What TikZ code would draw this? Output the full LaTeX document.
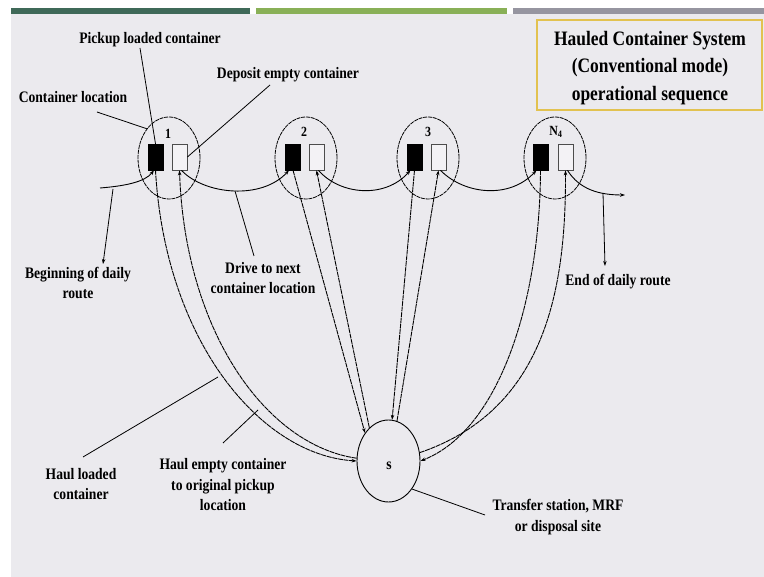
\documentclass[tikz,border=0pt]{standalone}
\usepackage{fontspec}
\setmainfont{Liberation Serif}[FakeStretch=0.85]
\usetikzlibrary{arrows.meta,shapes.geometric,calc}
\definecolor{bg}{RGB}{235,234,238}
\definecolor{barA}{RGB}{63,105,88}
\definecolor{barB}{RGB}{137,176,87}
\definecolor{barC}{RGB}{150,149,160}
\definecolor{gold}{RGB}{226,194,80}
\tikzset{
  lbl/.style={font=\fontsize{16}{20.5}\selectfont\bfseries, align=center, inner sep=0pt, text=black},
  num/.style={font=\fontsize{14}{14}\selectfont\bfseries, inner sep=0pt},
  loc/.style={ellipse, draw, line width=0.8pt, dash pattern=on 4pt off 0.8pt, minimum width=62pt, minimum height=82pt, inner sep=0pt},
  fullbox/.style={rectangle, fill=black, draw=black, minimum width=15pt, minimum height=26pt, inner sep=0pt},
  emptybox/.style={rectangle, draw=black!70, fill=white!40!bg, line width=0.8pt, minimum width=15pt, minimum height=26pt, inner sep=0pt},
  route/.style={line width=0.9pt, -{Stealth[length=5pt,width=3.5pt]}},
  haul/.style={line width=0.9pt, dash pattern=on 5pt off 0.7pt, -{Stealth[length=5pt,width=3.5pt]}},
  pointer/.style={line width=0.8pt},
  pointarrow/.style={line width=0.8pt, -{Stealth[length=5pt,width=3.5pt]}}
}
\begin{document}
\begin{tikzpicture}[x=1pt,y=-1pt]
\useasboundingbox (0,0) rectangle (764,577);
\fill[white] (0,0) rectangle (764,577);
\fill[bg] (11,14) rectangle (764,577);
\fill[barA] (11,8) rectangle (250,14);
\fill[barB] (256,8) rectangle (507,14);
\fill[barC] (513,8) rectangle (764,14);

% title
\node[draw=gold, line width=2pt, fill=bg, minimum width=225pt, minimum height=90pt, inner sep=0pt] (titlebox) at (649.5,65) {};
\node[font=\fontsize{20.5}{27.5}\selectfont\bfseries, align=center, inner sep=0pt] (title) at (650,68)
  {Hauled Container System\\(Conventional mode)\\operational sequence};

% container locations
\node[loc] (c1) at (169,158) {};
\node[loc] (c2) at (306,158) {};
\node[loc] (c3) at (428,158) {};
\node[loc] (cN) at (555,158) {};

\node[fullbox] (b1) at (155.5,157) {};
\node[emptybox] (w1) at (179.5,157) {};
\node[fullbox] (b2) at (293,157) {};
\node[emptybox] (w2) at (316.5,157) {};
\node[fullbox] (b3) at (414.5,157) {};
\node[emptybox] (w3) at (438.5,157) {};
\node[fullbox] (bN) at (540.5,157) {};
\node[emptybox] (wN) at (565.5,157) {};

\node[num] (n1) at (168,134) {1};
\node[num] (n2) at (304,132) {2};
\node[num] (n3) at (428,132) {3};
\node[num] (nN) at (556,132) {N\textsubscript{4}};

% site
\node[ellipse, draw, line width=0.9pt, minimum width=63pt, minimum height=82pt, inner sep=0pt] (s) at (388.5,461) {};
\node[num, font=\fontsize{16}{16}\selectfont\bfseries] (slabel) at (389,466) {s};

% route
\coordinate (start) at (100,188);
\coordinate (finish) at (625,195);
\draw[route] (start) .. controls (125,186) and (145,182) .. ([xshift=-1.5pt]b1.south);
\draw[route] ([xshift=2pt]w1.south) .. controls (205,195) and (262,200) .. ([xshift=-4pt]b2.south);
\draw[route] ([xshift=2pt]w2.south) .. controls (340,195) and (385,199) .. ([xshift=-4pt]b3.south);
\draw[route] ([xshift=2pt]w3.south) .. controls (465,195) and (510,199) .. ([xshift=-4pt]bN.south);
\draw[route] ([xshift=2pt]wN.south) .. controls (580,190) and (600,195) .. (finish);

% haul trips
\draw[haul] (b1.south) .. controls (165,340) and (260,455) .. (s.west);
\draw[haul] (s.175) .. controls (265,445) and (185,330) .. (w1.south);
\draw[haul] (b2.south) -- (s.130);
\draw[haul] (s.120) -- (w2.south);
\draw[haul] (b3.south) -- (s.85);
\draw[haul] (s.78) -- (w3.south);
\draw[haul] (bN.south) .. controls (540,300) and (500,430) .. (s.east);
\draw[haul] (s.15) .. controls (545,410) and (566,290) .. (wN.south);

% labels
\node[lbl] (pickup) at (150,40) {Pickup loaded container};
\node[lbl] (deposit) at (288,75) {Deposit empty container};
\node[lbl] (contloc) at (73,97) {Container location};
\node[lbl] (begin) at (78,283) {Beginning of daily\\route};
\node[lbl] (drive) at (263,278) {Drive to next\\container location};
\node[lbl] (endr) at (618,282) {End of daily route};
\node[lbl] (hloaded) at (81,484) {Haul loaded\\container};
\node[lbl] (hempty) at (223,485) {Haul empty container\\to original pickup\\location};
\node[lbl] (transfer) at (558,517) {Transfer station, MRF\\or disposal site};

\coordinate (pickfoot) at (140,48);
\coordinate (depfoot) at (270,85);
\coordinate (locfoot) at (97,112);
\coordinate (begonroute) at (113,189);
\coordinate (begtip) at (103,264);
\coordinate (driveonroute) at (235,191);
\coordinate (drivefoot) at (254,256);
\coordinate (endonroute) at (603,193);
\coordinate (endtip) at (605,266);
\coordinate (hlfoot) at (83,457);
\coordinate (hloncurve) at (218,377);
\coordinate (hefoot) at (223,443);
\coordinate (heoncurve) at (258,410);
\coordinate (trfoot) at (485,515);

\draw[pointer] (pickfoot) -- (b1.north);
\draw[pointer] (depfoot) -- (w1.east);
\draw[pointer] (locfoot) -- (c1.north west);
\draw[pointarrow] (begonroute) -- (begtip);
\draw[pointer] (driveonroute) -- (drivefoot);
\draw[pointarrow] (endonroute) -- (endtip);
\draw[pointer] (hlfoot) -- (hloncurve);
\draw[pointer] (hefoot) -- (heoncurve);
\draw[pointer] (s.-50) -- (trfoot);
\end{tikzpicture}
\end{document}
